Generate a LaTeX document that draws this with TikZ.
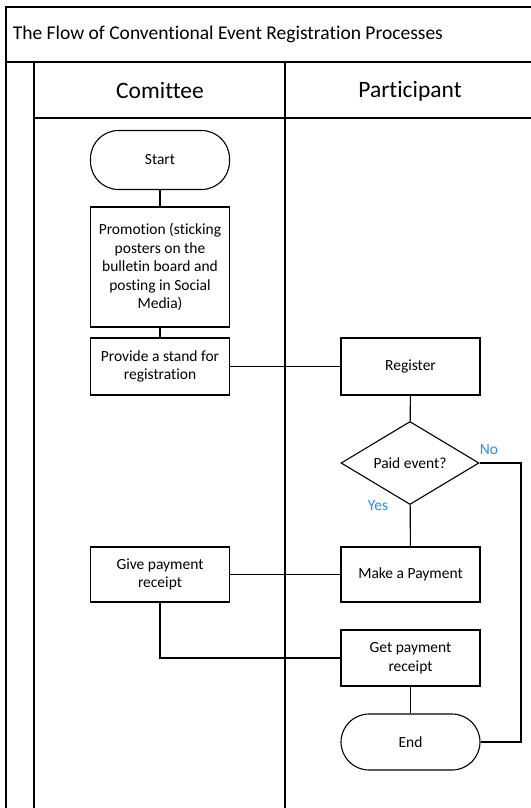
\documentclass[tikz,border=0pt]{standalone}
\usepackage{fontspec}
\setmainfont[Ligatures=CommonOff]{Carlito}
\usetikzlibrary{shapes.geometric}
\definecolor{lblue}{RGB}{40,140,230}
\begin{document}
\begin{tikzpicture}[x=1pt,y=-1pt,line width=1.1pt,
  procbox/.style={draw,minimum width=139pt,minimum height=57pt,align=center,font=\fontsize{15.5}{18.5}\selectfont,inner sep=2pt},
  termbox/.style={draw,rounded corners=28pt,minimum width=139pt,minimum height=59pt,font=\fontsize{15.5}{19}\selectfont},
  decbox/.style={draw,diamond,aspect=1.66,minimum width=138pt,minimum height=83pt,inner sep=0pt,font=\fontsize{15.5}{19}\selectfont},
  lbl/.style={text=lblue,font=\fontsize{15.5}{18}\selectfont}]
\useasboundingbox (0,0) rectangle (530,808);
% frame
\draw (6,808) -- (6,7) -- (531,7);
\draw (6,62) -- (531,62);
\draw (34,62) -- (34,808);
\draw (34,118) -- (531,118);
\draw (285,62) -- (285,808);
\node[anchor=west,font=\fontsize{19.5}{22}\selectfont] (title) at (9,34.5) {The Flow of Conventional Event Registration Processes};
\node[font=\fontsize{23.5}{26}\selectfont] (lane1) at (160,91) {Comittee};
\node[font=\fontsize{23.5}{26}\selectfont] (lane2) at (410,91) {Participant};
% nodes
\node[termbox] (start) at (160,160) {Start};
\node[procbox,minimum height=120pt] (promo) at (160,267) {Promotion (sticking\\posters on the\\bulletin board and\\posting in Social\\Media)};
\node[procbox] (stand) at (160,366.5) {Provide a stand for\\registration};
\node[procbox] (reg) at (410.5,366.5) {Register};
\node[decbox] (paid) at (410,463) {Paid event?};
\node[procbox,minimum height=55pt] (pay) at (410.5,574.5) {Make a Payment};
\node[procbox,minimum height=55pt] (give) at (160,574.5) {Give payment\\receipt};
\node[procbox,minimum height=56pt] (get) at (410.5,658) {Get payment\\receipt};
\node[termbox,minimum height=56pt] (end) at (410.5,742) {End};
\coordinate (noc) at (521,463);
\coordinate (noe) at (521,742);
% connectors
\draw (start) -- (promo);
\draw (promo) -- (stand);
\draw (stand) -- (reg);
\draw (reg) -- (paid);
\draw (paid) -- (pay);
\draw (pay) -- (give);
\draw (give.south) |- (get.west);
\draw (get) -- (end);
\draw (paid.east) -- (noc) -- (noe) -- (end.east);
\node[lbl] (no) at (489,450) {No};
\node[lbl] (yes) at (378,506) {Yes};
\end{tikzpicture}
\end{document}
